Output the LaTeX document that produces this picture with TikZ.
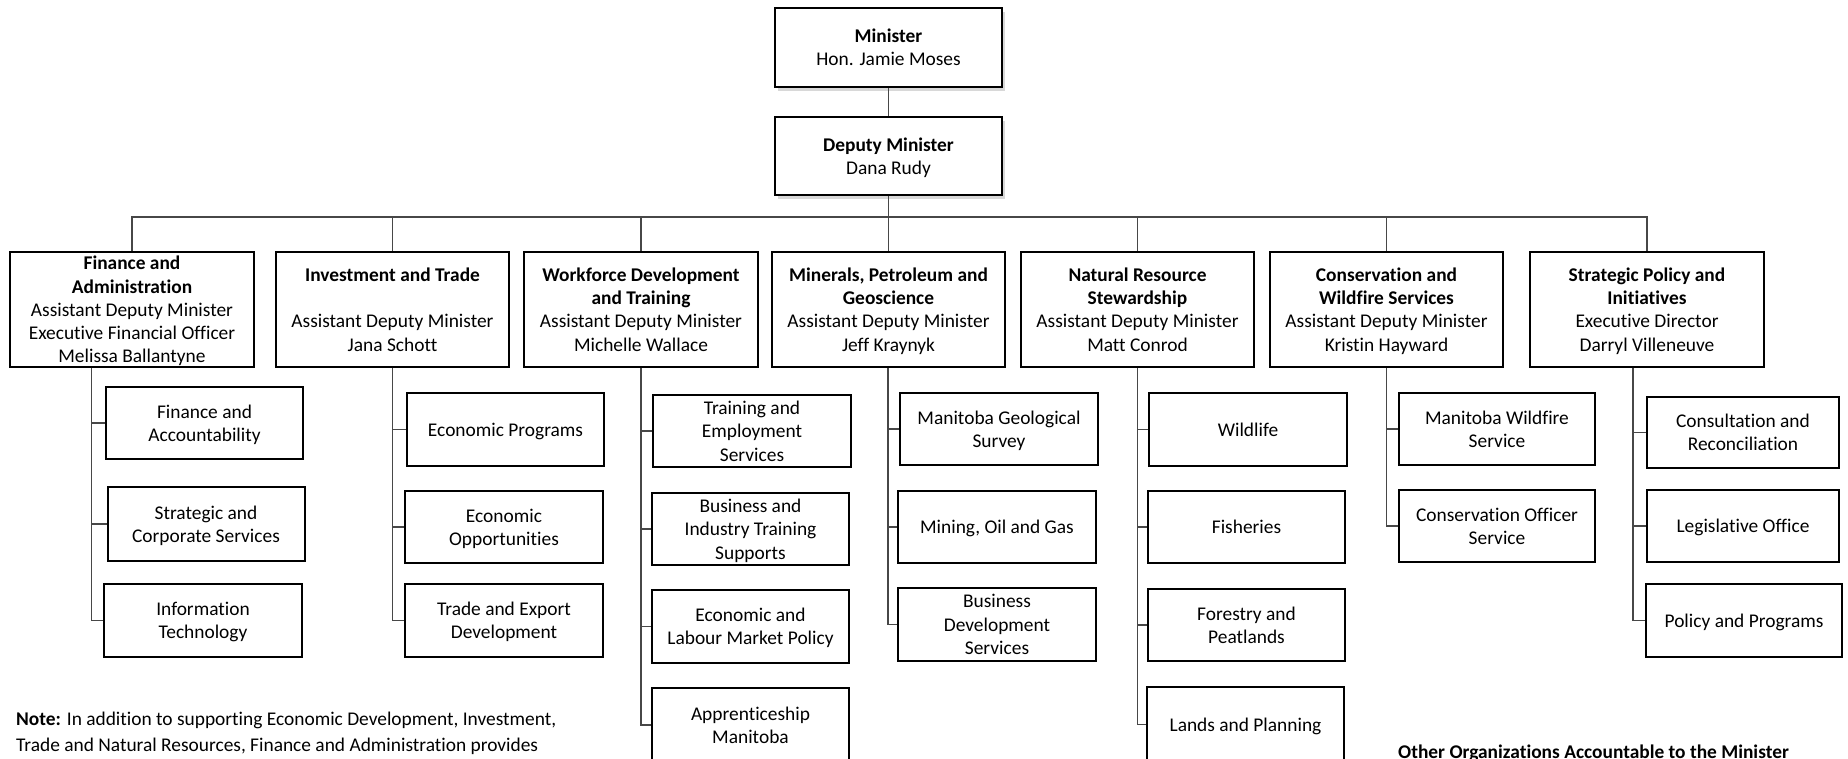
\documentclass[tikz,border=0pt]{standalone}
\usepackage{fontspec}
\setmainfont{Carlito}[Ligatures=NoCommon]
\usetikzlibrary{shadows}
\newcommand\obox[7]{\node[#1, minimum width={#4-#2}, minimum height={#5-#3}] (#6) at ({(#2+#4)/2},{(#3+#5)/2}) {#7};}
\begin{document}
\begin{tikzpicture}[x=1pt,y=-1pt,
  box/.style={draw=black, line width=2pt, fill=white, inner sep=0pt, text depth=0pt, align=center, font=\fontsize{19.4}{23.3}\selectfont},
  sbox/.style={box, drop shadow={opacity=0.3, shadow xshift=3pt, shadow yshift=-4pt}},
  conn/.style={draw=black!72, line width=1.1pt},
  txt/.style={inner sep=0pt, font=\fontsize{19.4}{26}\selectfont}]
\useasboundingbox (0,0) rectangle (1848,759);
\fill[white] (0,0) rectangle (1848,759);

% top
\obox{sbox}{775}{8}{1002}{87}{mn}{\textbf{Minister}\\Hon. Jamie Moses}
\obox{sbox}{775}{117}{1002}{195}{dm}{\textbf{Deputy Minister}\\Dana Rudy}

% divisions
\obox{box}{10}{252}{254}{367}{fin}{\textbf{Finance and}\\\textbf{Administration}\\Assistant Deputy Minister\\Executive Financial Officer\\Melissa Ballantyne}
\obox{box}{276}{252}{509}{367}{inv}{\textbf{Investment and Trade}\\[23.3pt]Assistant Deputy Minister\\Jana Schott}
\obox{box}{524}{252}{758}{367}{wf}{\textbf{Workforce Development}\\\textbf{and Training}\\Assistant Deputy Minister\\Michelle Wallace}
\obox{box}{772}{252}{1005}{367}{mpg}{\textbf{Minerals, Petroleum and}\\\textbf{Geoscience}\\Assistant Deputy Minister\\Jeff Kraynyk}
\obox{box}{1021}{252}{1254}{367}{nrs}{\textbf{Natural Resource}\\\textbf{Stewardship}\\Assistant Deputy Minister\\Matt Conrod}
\obox{box}{1270}{252}{1503}{367}{cws}{\textbf{Conservation and}\\\textbf{Wildfire Services}\\Assistant Deputy Minister\\Kristin Hayward}
\obox{box}{1530}{252}{1764}{367}{spi}{\textbf{Strategic Policy and}\\\textbf{Initiatives}\\Executive Director\\Darryl Villeneuve}

% units
\obox{box}{106}{387}{303}{459}{fa1}{Finance and\\Accountability}
\obox{box}{107.5}{487}{304.5}{561}{fa2}{Strategic and\\Corporate Services}
\obox{box}{104}{584}{302}{657}{fa3}{Information\\Technology}

\obox{box}{407}{393}{604}{466}{it1}{Economic Programs}
\obox{box}{405}{491}{603}{563}{it2}{Economic\\Opportunities}
\obox{box}{405}{584}{603}{657}{it3}{Trade and Export\\Development}

\obox{box}{653}{395}{851}{467}{wd1}{Training and\\Employment\\Services}
\obox{box}{652}{493}{849}{565}{wd2}{Business and\\Industry Training\\Supports}
\obox{box}{652}{590}{849}{663}{wd3}{Economic and\\Labour Market Policy}
\obox{box}{652}{688}{849}{762}{wd4}{Apprenticeship\\Manitoba}

\obox{box}{900}{393}{1098}{465}{mp1}{Manitoba Geological\\Survey}
\obox{box}{898}{491}{1096}{563}{mp2}{Mining, Oil and Gas}
\obox{box}{898}{588}{1096}{661}{mp3}{Business\\Development\\Services}

\obox{box}{1149}{393}{1347}{466}{nr1}{Wildlife}
\obox{box}{1148}{491}{1345}{563}{nr2}{Fisheries}
\obox{box}{1148}{589}{1345}{661}{nr3}{Forestry and\\Peatlands}
\obox{box}{1147}{687}{1344}{762}{nr4}{Lands and Planning}

\obox{box}{1399}{393}{1595}{465}{cw1}{Manitoba Wildfire\\Service}
\obox{box}{1399}{490}{1595}{562}{cw2}{Conservation Officer\\Service}

\obox{box}{1647}{397}{1839}{468}{sp1}{Consultation and\\Reconciliation}
\obox{box}{1647}{490}{1839}{562}{sp2}{Legislative Office}
\obox{box}{1646}{584}{1842}{657}{sp3}{Policy and Programs}

% connectors top
\coordinate (bus) at (0,217);
\draw[conn] (mn.south) -- (dm.north);
\draw[conn] (dm.south) -- (dm.south |- bus);
\draw[conn] (fin.north) -- (fin.north |- bus) -- (spi.north |- bus) -- (spi.north);
\foreach \d in {inv,wf,mpg,nrs,cws}{\draw[conn] (\d.north) -- (\d.north |- bus);}

% trunks
\coordinate (tf) at (91.7,0);
\coordinate (ti) at (392.6,0);
\coordinate (tw) at (641,0);
\coordinate (tm) at (888,0);
\coordinate (tn) at (1137.5,0);
\coordinate (tc) at (1386.5,0);
\coordinate (ts) at (1633,0);
\draw[conn] (fin.south -| tf) |- (fa3.west);
\foreach \u in {fa1,fa2}{\draw[conn] (\u.west -| tf) -- (\u.west);}
\draw[conn] (inv.south -| ti) |- (it3.west);
\foreach \u in {it1,it2}{\draw[conn] (\u.west -| ti) -- (\u.west);}
\draw[conn] (wf.south -| tw) |- (wd4.west);
\foreach \u in {wd1,wd2,wd3}{\draw[conn] (\u.west -| tw) -- (\u.west);}
\draw[conn] (mpg.south -| tm) |- (mp3.west);
\foreach \u in {mp1,mp2}{\draw[conn] (\u.west -| tm) -- (\u.west);}
\draw[conn] (nrs.south -| tn) |- (nr4.west);
\foreach \u in {nr1,nr2,nr3}{\draw[conn] (\u.west -| tn) -- (\u.west);}
\draw[conn] (cws.south -| tc) |- (cw2.west);
\foreach \u in {cw1}{\draw[conn] (\u.west -| tc) -- (\u.west);}
\draw[conn] (spi.south -| ts) |- (sp3.west);
\foreach \u in {sp1,sp2}{\draw[conn] (\u.west -| ts) -- (\u.west);}

% notes
\node[txt, anchor=base west] (note1) at (16,725) {\textbf{Note:} In addition to supporting Economic Development, Investment,};
\node[txt, anchor=base west] (note2) at (16,751) {Trade and Natural Resources, Finance and Administration provides};
\node[txt, anchor=base west] (other) at (1398,758) {\textbf{Other Organizations Accountable to the Minister}};
\end{tikzpicture}
\end{document}
